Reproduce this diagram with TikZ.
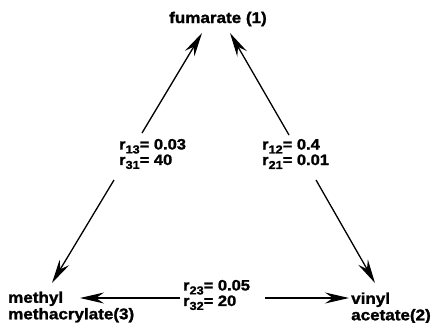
\documentclass[tikz,border=0pt]{standalone}
\usepackage{fontspec}
\setmainfont{Liberation Sans}[FakeStretch=1.1, BoldFeatures={FakeBold=1.5}]
\usetikzlibrary{arrows.meta}
\newcommand{\rsub}[1]{r\raisebox{-0.5ex}{\fontsize{11.5}{11.5}\selectfont #1}}
\begin{document}
\begin{tikzpicture}[x=1pt,y=-1pt,
  lbl/.style={font=\fontsize{15.5}{16.5}\selectfont\bfseries, inner sep=0pt},
  rlbl/.style={font=\fontsize{15}{15.5}\selectfont\bfseries, inner sep=0pt, align=left, anchor=west},
  conn/.style={line width=1.3pt, -{Stealth[length=24pt,width=11pt,inset=8pt]}}]
\useasboundingbox (0,0) rectangle (445,322);
\node[lbl] (fum) at (218,19) {fumarate (1)};
\node[lbl, align=left, anchor=west] (mma) at (8,307) {methyl\\methacrylate(3)};
\node[lbl, align=left, anchor=west] (va) at (351,308) {vinyl\\acetate(2)};
\node[rlbl] (k13) at (119,154) {\rsub{13}= 0.03\\\rsub{31}= 40};
\node[rlbl] (k12) at (262,154) {\rsub{12}= 0.4\\\rsub{21}= 0.01};
\node[rlbl] (k23) at (183,295) {\rsub{23}= 0.05\\\rsub{32}= 20};
\coordinate (a1) at (142,133); \coordinate (a1t) at (202,33);
\coordinate (a2) at (114,180); \coordinate (a2t) at (52,283);
\coordinate (b1) at (289,135); \coordinate (b1t) at (230,33);
\coordinate (b2) at (316,180); \coordinate (b2t) at (375,283);
\coordinate (c1) at (180,298); \coordinate (c1t) at (80,298);
\coordinate (c2) at (265,298); \coordinate (c2t) at (349,298);
\draw[conn] (a1) -- (a1t);
\draw[conn] (a2) -- (a2t);
\draw[conn] (b1) -- (b1t);
\draw[conn] (b2) -- (b2t);
\draw[conn] (c1) -- (c1t);
\draw[conn] (c2) -- (c2t);
\end{tikzpicture}
\end{document}
